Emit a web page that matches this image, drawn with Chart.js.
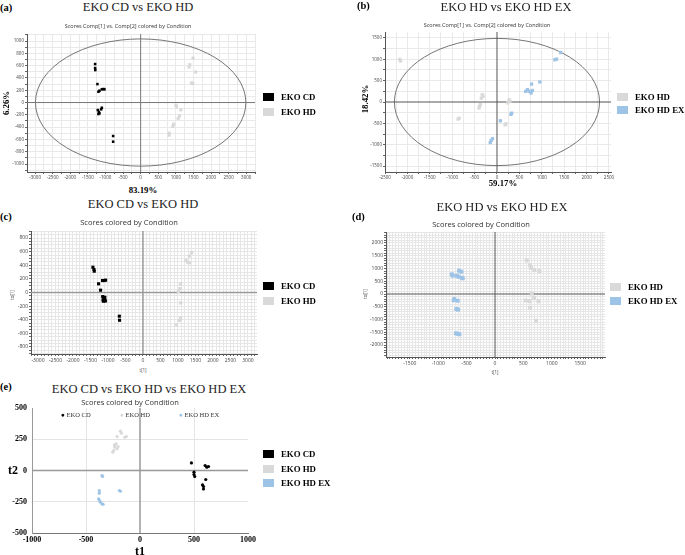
<!DOCTYPE html>
<html>
<head>
<meta charset="utf-8">
<script src="https://cdn.jsdelivr.net/npm/chart.js@4.4.1/dist/chart.umd.min.js"></script>
<style>
  body { margin: 0; background: #fff; width: 685px; height: 555px; position: relative; overflow: hidden; }
  canvas { position: absolute; }
  .t { position: absolute; white-space: nowrap; line-height: 1; }
  .sq { position: absolute; width: 11px; height: 8px; }
</style>
</head>
<body>
<canvas id="ca"></canvas>
<canvas id="cb"></canvas>
<canvas id="cc"></canvas>
<canvas id="cd"></canvas>
<canvas id="ce"></canvas>
<script>
// couleurs des groupes
const NOIR = "#000000", GRIS = "#d9d9d9", BLEU = "#9dc3e6";

// (a) EKO CD vs EKO HD - Comp[1] / Comp[2]
const aCdX = [-1294, -1294, -1290, -1228, -1200, -1171, -1103, -1058, -1029, -1217, -1188, -1171, -1123, -1103, -1200, -782, -782];
const aCdY = [626, 561, 528, 300, 176, 192, 215, 220, 215, -122, -154, -176, -111, -85, -187, -545, -637];
const aHdX = [1396, 1377, 1490, 1566, 1443, 1481, 1000, 1019, 1142, 1104, 1066, 934, 915, 811, 811];
const aHdY = [616, 578, 724, 497, 319, 308, -43, -65, -119, -216, -259, -351, -389, -497, -530];

// (b) EKO HD vs EKO HD EX
const bHdX = [-2169, -2150, -330, -310, -350, -370, -390, -400, -845, -870, 270, 290, 240, 200, 180];
const bHdY = [1000, 960, 170, 130, 90, -60, -100, -140, -380, -400, 50, 20, -20, -510, -535];
const bExX = [1420, 1290, 1330, 956, 772, 640, 680, 720, 760, 790, 330, 310, 75, -100, -130, -150];
const bExY = [1160, 990, 1005, 470, 420, 250, 290, 250, 210, 270, -260, -290, -440, -860, -900, -950];

// (c) EKO CD vs EKO HD - t[1] / to[1]
const cCdX = [-1430, -1401, -1392, -1269, -1211, -1154, -1105, -1068, -1150, -1120, -1090, -1140, -1100, -1075, -1130, -1085, -675, -670];
const cCdY = [371, 338, 313, 128, 34, 176, 176, 181, -60, -75, -70, -110, -100, -125, -128, -115, -348, -407];
const cHdX = [1392, 1324, 1225, 1275, 1324, 1078, 1059, 1010, 1078, 1078, 1049, 951];
const cHdY = [585, 536, 472, 447, 437, 126, 57, 17, -153, -375, -410, -474];

// (d) EKO HD vs EKO HD EX - t[1] / to[1]
const dHdX = [559, 618, 635, 694, 782, 647, 688, 541, 606, 765, 618, 723];
const dHdY = [1320, 1128, 1025, 936, 897, 13, -154, -256, -282, -282, -538, -1051];
const dExX = [-762, -745, -674, -646, -634, -593, -586, -569, -716, -727, -657, -681, -651, -687, -628, -660];
const dExY = [773, 718, 718, 678, 914, 875, 640, 615, -196, -247, -263, -588, -615, -1541, -1580, -1560];

// (e) les trois conditions - t1 / t2
const eCdX = [476, 500, 500, 507, 603, 619, 634, 609, 579, 588, 588];
const eCdY = [61, -13, -32, -48, 40, 27, 32, -72, -115, -128, -147];
const eHdX = [-181, -172, -212, -141, -126, -237, -221, -234, -212, -203, -253, -244];
const eHdY = [315, 299, 272, 267, 272, 205, 213, 187, 174, 192, 147, 160];
const eExX = [-352, -346, -377, -377, -383, -374, -367, -352, -342, -191, -181];
const eExY = [-40, -48, -160, -181, -227, -240, -253, -267, -270, -160, -166];

function pts(xs, ys) {
  return xs.map((x, i) => ({ x: x, y: ys[i] }));
}

// ellipse de Hotelling T2 + axes x=0 / y=0, dessinés avec les échelles du graphique
const ellipsePlugin = {
  id: "ellipse",
  beforeDatasetsDraw(chart, args, o) {
    const sx = chart.scales.x, sy = chart.scales.y, ctx = chart.ctx, a = chart.chartArea;
    const cx = sx.getPixelForValue(0), cy = sy.getPixelForValue(0);
    ctx.save();
    if (o.rx) {
      const rx = Math.abs(sx.getPixelForValue(o.rx) - cx);
      const ry = Math.abs(sy.getPixelForValue(o.ry) - cy);
      ctx.strokeStyle = o.color;
      ctx.lineWidth = 0.9;
      ctx.beginPath();
      ctx.ellipse(cx, cy, rx, ry, 0, 0, Math.PI * 2);
      ctx.stroke();
    }
    if (o.zero) {
      ctx.strokeStyle = o.zero;
      ctx.lineWidth = o.zeroW || 1;
      ctx.beginPath();
      ctx.moveTo(cx, a.top); ctx.lineTo(cx, a.bottom);
      ctx.moveTo(a.left, cy); ctx.lineTo(a.right, cy);
      ctx.stroke();
    }
    ctx.restore();
  }
};

function axe(o, horizontal) {
  const gridColor = (ctx) => {
    if (!ctx.tick) return o.grid;
    if (ctx.tick.value === 0) return "rgba(0,0,0,0)";
    if (o.hideBounds && Math.abs(ctx.tick.value) === o.hideBounds) return "rgba(0,0,0,0)";
    return o.grid;
  };
  return {
    type: "linear",
    min: o.min, max: o.max,
    border: { display: true, color: o.border || "#555", width: 1 },
    grid: {
      color: gridColor,
      drawTicks: o.tickLen > 0,
      tickLength: o.tickLen,
      tickColor: "#666"
    },
    ticks: {
      autoSkip: false,
      maxRotation: 0,
      minRotation: 0,
      padding: o.pad,
      color: o.color || "#444",
      font: o.font,
      callback: (v) => (Math.abs(v) % o.label === 0 ? String(v) : "")
    },
    // graduations régulières : un multiple du pas entre min et max
    afterBuildTicks: (s) => {
      const t = [];
      for (let v = Math.ceil(o.min / o.step) * o.step; v <= o.max; v += o.step) t.push({ value: v });
      s.ticks = t;
    },
    afterFit: (s) => {
      if (horizontal) { s.height = o.size; s.paddingLeft = 0; s.paddingRight = 0; }
      else { s.width = o.size; s.paddingTop = 0; s.paddingBottom = 0; }
    }
  };
}

function panneau(id, box, padT, padR, xOpt, yOpt, datasets, ellipse) {
  const c = document.getElementById(id);
  const w = box.r - box.l + yOpt.size + padR;
  const h = box.b - box.t + padT + xOpt.size;
  c.width = w; c.height = h;
  c.style.width = w + "px"; c.style.height = h + "px";
  c.style.left = (box.l - yOpt.size) + "px";
  c.style.top = (box.t - padT) + "px";
  new Chart(c, {
    type: "scatter",
    data: { datasets: datasets },
    options: {
      responsive: false,
      devicePixelRatio: 1,
      animation: false,
      layout: { padding: { top: padT, right: padR, left: 0, bottom: 0 } },
      plugins: {
        legend: { display: false },
        tooltip: { enabled: false },
        ellipse: ellipse
      },
      scales: { x: axe(xOpt, true), y: axe(yOpt, false) }
    },
    plugins: [ellipsePlugin]
  });
}

function serie(xs, ys, color, style, r) {
  return { data: pts(xs, ys), backgroundColor: color, borderWidth: 0, pointStyle: style, pointRadius: r };
}

const petit = { family: "'Open Sans', 'DejaVu Sans', sans-serif", size: 4.5 };
const petit2 = { family: "'Open Sans', 'DejaVu Sans', sans-serif", size: 5 };
const gras = { family: "'Liberation Serif', serif", size: 8, weight: "bold" };

// (a)
panneau("ca", { l: 27, t: 34, r: 255, b: 172 }, 5, 6,
  { min: -3230, max: 3250, step: 250, label: 500, grid: "#e9e9e9", tickLen: 2, pad: 1, size: 12, font: petit },
  { min: -1130, max: 1115, step: 100, label: 200, grid: "#e9e9e9", tickLen: 2, pad: 1, size: 20, font: petit },
  [serie(aCdX, aCdY, NOIR, "rect", 1.8), serie(aHdX, aHdY, GRIS, "rect", 2.2)],
  { rx: 2990, ry: 1035, color: "#666", zero: "#777" });

// (b)
panneau("cb", { l: 385, t: 32, r: 611, b: 172 }, 5, 4,
  { min: -2500, max: 2545, step: 250, label: 500, grid: "#e9e9e9", tickLen: 2, pad: 1, size: 12, font: petit },
  { min: -1640, max: 1640, step: 250, label: 500, grid: "#e9e9e9", tickLen: 2, pad: 1, size: 20, font: petit },
  [serie(bHdX, bHdY, GRIS, "rect", 2.3), serie(bExX, bExY, BLEU, "rect", 2.3)],
  { rx: 2290, ry: 1490, color: "#666", zero: "#555" });

// (c)
panneau("cc", { l: 31, t: 231, r: 257, b: 354 }, 5, 6,
  { min: -3200, max: 3260, step: 100, label: 500, grid: "#e6e6e6", tickLen: 2, pad: 2, size: 12, font: petit2 },
  { min: -903, max: 903, step: 50, label: 200, grid: "#e6e6e6", tickLen: 2, pad: 1, size: 22, font: petit2 },
  [serie(cCdX, cCdY, NOIR, "rect", 2.2), serie(cHdX, cHdY, GRIS, "rect", 2.3)],
  { zero: "#9a9a9a", zeroW: 1.5 });

// (d)
panneau("cd", { l: 386, t: 232, r: 605, b: 357 }, 5, 6,
  { min: -1920, max: 1937, step: 50, label: 500, grid: "#e6e6e6", tickLen: 2, pad: 2, size: 12, font: petit2 },
  { min: -2470, max: 2431, step: 100, label: 500, grid: "#e6e6e6", tickLen: 2, pad: 1, size: 24, font: petit2 },
  [serie(dHdX, dHdY, GRIS, "rect", 2.8), serie(dExX, dExY, BLEU, "rect", 2.8)],
  { zero: "#555" });

// (e)
panneau("ce", { l: 32, t: 408, r: 248, b: 533 }, 6, 12,
  { min: -1000, max: 1000, step: 500, label: 500, grid: "#e4e4e4", hideBounds: 1000, border: "#777", tickLen: 0, pad: 2, size: 14, color: "#000", font: gras },
  { min: -500, max: 500, step: 250, label: 250, grid: "#e4e4e4", hideBounds: 500, border: "#999", tickLen: 0, pad: 5, size: 32, color: "#000", font: gras },
  [serie(eCdX, eCdY, NOIR, "circle", 1.6), serie(eHdX, eHdY, GRIS, "circle", 1.6), serie(eExX, eExY, BLEU, "circle", 1.6)],
  { zero: "#999", zeroW: 1.5 });

// textes
const SERIF = "'Liberation Serif', 'Times New Roman', serif";
const SANS = "'Open Sans', 'DejaVu Sans', sans-serif";
function texte(s, x, y, fam, taille, poids, ancre, rot, couleur) {
  const d = document.createElement("div");
  d.className = "t";
  d.textContent = s;
  d.style.left = x + "px";
  d.style.top = y + "px";
  d.style.fontFamily = fam;
  d.style.fontSize = taille + "px";
  d.style.fontWeight = poids;
  d.style.color = couleur || "#000";
  const tx = ancre === "l" ? "0" : "-50%";
  d.style.transform = "translate(" + tx + ",-50%)" + (rot ? " rotate(" + rot + "deg)" : "");
  document.body.appendChild(d);
  return d;
}
function legende(x, y, couleur, s) {
  const q = document.createElement("div");
  q.className = "sq";
  q.style.left = x + "px";
  q.style.top = (y - 4) + "px";
  q.style.background = couleur;
  document.body.appendChild(q);
  texte(s, x + 18, y, SERIF, 8.8, "bold", "l");
}

// (a)
texte("(a)", 0, 8, SERIF, 10.5, "bold", "l");
texte("EKO CD vs EKO HD", 138, 7, SERIF, 12.5, "normal", "c", 0, "#222");
texte("Scores Comp[1] vs. Comp[2] colored by Condition", 128, 27, SANS, 5.5, "normal", "c", 0, "#333");
texte("83.19%", 143, 190, SERIF, 8.8, "bold", "c");
texte("6.26%", 6, 103, SERIF, 8.8, "bold", "c", -90);
legende(263, 97, NOIR, "EKO CD");
legende(263, 111.5, GRIS, "EKO HD");

// (b)
texte("(b)", 357, 6, SERIF, 10.5, "bold", "l");
texte("EKO HD vs EKO HD EX", 506, 7, SERIF, 12.5, "normal", "c", 0, "#222");
texte("Scores Comp[1] vs. Comp[2] colored by Condition", 487, 26, SANS, 5.5, "normal", "c", 0, "#333");
texte("59.17%", 503, 183, SERIF, 8.8, "bold", "c");
texte("18.42%", 365, 99, SERIF, 8.8, "bold", "c", -90);
legende(617, 97, GRIS, "EKO HD");
legende(617, 110, BLEU, "EKO HD EX");

// (c)
texte("(c)", 0, 217, SERIF, 10.5, "bold", "l");
texte("EKO CD vs EKO HD", 143, 204, SERIF, 12.5, "normal", "c", 0, "#222");
texte("Scores colored by Condition", 129, 223, SANS, 7.5, "normal", "c", 0, "#333");
texte("t[1]", 143, 370, SANS, 4.5, "normal", "c", 0, "#444");
texte("to[1]", 12, 295, SANS, 4.5, "normal", "c", -90, "#444");
legende(263, 286, NOIR, "EKO CD");
legende(263, 301, GRIS, "EKO HD");

// (d)
texte("(d)", 352, 217, SERIF, 10.5, "bold", "l");
texte("EKO HD vs EKO HD EX", 502, 207, SERIF, 12.5, "normal", "c", 0, "#222");
texte("Scores colored by Condition", 481, 225, SANS, 7.5, "normal", "c", 0, "#333");
texte("t[1]", 495, 372, SANS, 4.5, "normal", "c", 0, "#444");
texte("to[1]", 365, 294, SANS, 4.5, "normal", "c", -90, "#444");
legende(610, 286.5, GRIS, "EKO HD");
legende(610, 301, BLEU, "EKO HD EX");

// (e)
texte("(e)", 0, 387, SERIF, 10.5, "bold", "l");
texte("EKO CD vs EKO HD vs EKO HD EX", 149, 389, SERIF, 12.5, "normal", "c", 0, "#222");
texte("Scores colored by Condition", 130, 403, SANS, 7.5, "normal", "c", 0, "#333");
texte("t2", 13, 470, SERIF, 12, "bold", "c");
texte("t1", 140, 551, SERIF, 12, "bold", "c");
[[61, NOIR, "EKO CD"], [120, GRIS, "EKO HD"], [179, BLEU, "EKO HD EX"]].forEach(([x, col, s]) => {
  const d = texte("", x, 415, SERIF, 6.5, "normal", "l", 0, "#333");
  d.innerHTML = '<span style="color:' + col + '">&#9679;</span> ' + s;
});
legende(263, 454, NOIR, "EKO CD");
legende(263, 469, GRIS, "EKO HD");
legende(263, 483, BLEU, "EKO HD EX");
</script>
</body>
</html>
